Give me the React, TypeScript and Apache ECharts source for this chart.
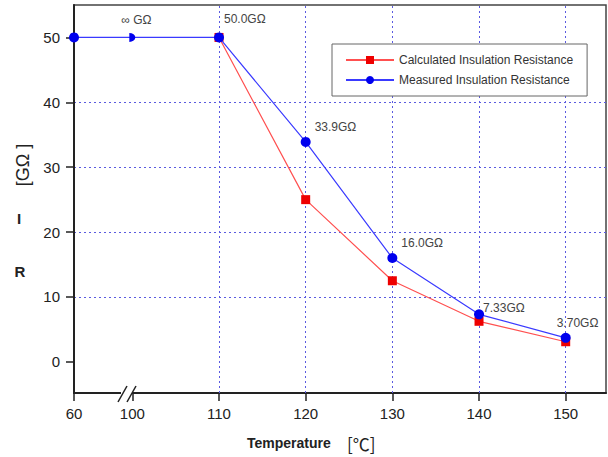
import React, { useEffect, useRef } from "react";
import * as echarts from "echarts";

// Temperatures (°C); the axis is broken between 60 and 100
const TEMPS = [60, 100, 110, 120, 130, 140, 150];
const MEASURED = [50, 50, 50, 33.9, 16.0, 7.33, 3.7];
const MEASURED_LABELS = ["", "∞ GΩ", "50.0GΩ", "33.9GΩ", "16.0GΩ", "7.33GΩ", "3.70GΩ"];
const CALC_TEMPS = [110, 120, 130, 140, 150];
const CALC = [50, 25, 12.5, 6.25, 3.1];
const X_TICKS = [60, 100, 110, 120, 130, 140, 150];
const X_GRID = [110, 120, 130, 140, 150];
const Y_TICKS = [0, 10, 20, 30, 40, 50];

// broken axis: values below 100 are drawn at the compressed left end
const BREAK_POS = 93.27;
const pos = (t: number) => (t < 100 ? BREAK_POS : t);
const X_MAX = 154.65;
const Y_MIN = -4.8;
const Y_MAX = 55;

// label offsets (px) from each measured point: [dx, dy]
const LABEL_OFFSETS: [number, number][] = [
  [0, 0], [-11, -17], [5, -18], [9, -15], [9, -15], [4, -6], [-9, -15],
];

const FONT = "'Liberation Sans', Arial, sans-serif";

export default function App() {
  const ref = useRef<HTMLDivElement>(null);
  useEffect(() => {
    if (!ref.current) return;
    const chart = echarts.init(ref.current, null, { renderer: "svg" });
    const tickPos = X_TICKS.map(pos);
    const gridColor = "#5a5ae0";
    const option: any = {
      animation: false,
      backgroundColor: "#fff",
      textStyle: { fontFamily: FONT },
      grid: { left: 74, right: 2, top: 5, bottom: 64, show: true, borderColor: "#444", borderWidth: 1.5 },
      legend: {
        orient: "vertical",
        left: 332,
        top: 44,
        padding: [10, 14, 10, 13],
        itemWidth: 48,
        itemHeight: 10,
        itemGap: 8,
        borderColor: "#666",
        borderWidth: 1,
        backgroundColor: "#fff",
        textStyle: { fontSize: 12, color: "#333", fontFamily: FONT },
        data: ["Calculated Insulation Resistance", "Measured Insulation Resistance"],
      },
      xAxis: {
        type: "value",
        min: BREAK_POS,
        max: X_MAX,
        axisLine: { show: true, onZero: false, lineStyle: { color: "#222", width: 2 } },
        axisTick: { show: true, length: 8, customValues: tickPos, lineStyle: { color: "#222", width: 1.5 } },
        axisLabel: {
          customValues: tickPos,
          margin: 13,
          fontSize: 15,
          color: "#222",
          formatter: (v: number) => {
            const i = tickPos.findIndex((p) => Math.abs(p - v) < 0.01);
            return i >= 0 ? String(X_TICKS[i]) : "";
          },
        },
        splitLine: { show: false },
      },
      yAxis: {
        type: "value",
        min: Y_MIN,
        max: Y_MAX,
        axisLine: { show: true, lineStyle: { color: "#222", width: 2 } },
        axisTick: { show: true, length: 8, customValues: Y_TICKS, lineStyle: { color: "#222", width: 1.5 } },
        axisLabel: { customValues: Y_TICKS, margin: 14, fontSize: 15, color: "#222" },
        splitLine: {
          show: true,
          showMinLine: false,
          showMaxLine: false,
          lineStyle: { type: [2, 3], color: gridColor, width: 1 },
        },
      },
      series: [
        {
          name: "Calculated Insulation Resistance",
          type: "line",
          data: CALC_TEMPS.map((t, i) => [pos(t), CALC[i]]),
          symbol: "rect",
          symbolSize: 9,
          itemStyle: { color: "#ee0000" },
          lineStyle: { color: "#ff5050", width: 1.2 },
          z: 2,
          markLine: {
            silent: true,
            symbol: ["none", "none"],
            label: { show: false },
            lineStyle: { type: [2, 3], color: gridColor, width: 1 },
            data: X_GRID.map((t) => ({ xAxis: pos(t) })),
            z: 1,
          },
        },
        {
          name: "Measured Insulation Resistance",
          type: "line",
          z: 3,
          symbol: "circle",
          symbolSize: 10,
          data: TEMPS.map((t, i) => {
            const isBreak = i === 1;
            const size = isBreak ? [6, 9] : [10, 10];
            const [dx, dy] = LABEL_OFFSETS[i];
            return {
              value: [pos(t), MEASURED[i]],
              symbol: isBreak ? "path://M0,0 A5,5 0 0 1 0,10 Z" : "circle",
              symbolSize: size,
              label: {
                show: MEASURED_LABELS[i] !== "",
                formatter: MEASURED_LABELS[i],
                position: [size[0] / 2 + dx, size[1] / 2 + dy],
                align: "left",
                verticalAlign: "middle",
                fontSize: 12,
                color: "#444",
                fontFamily: FONT,
              },
            };
          }),
          itemStyle: { color: "#0000ee" },
          lineStyle: { color: "#3a3aff", width: 1.2 },
        },
      ],
      graphic: [
        {
          type: "text",
          x: 23,
          y: 165,
          rotation: Math.PI / 2,
          style: { text: "[GΩ ]", font: `18px ${FONT}`, fill: "#222", textAlign: "center", textVerticalAlign: "middle" },
        },
        {
          type: "text",
          x: 19,
          y: 218,
          style: { text: "I", font: `bold 15px ${FONT}`, fill: "#222", textAlign: "center", textVerticalAlign: "middle" },
        },
        {
          type: "text",
          x: 20,
          y: 271,
          style: { text: "R", font: `bold 15px ${FONT}`, fill: "#222", textAlign: "center", textVerticalAlign: "middle" },
        },
        {
          type: "text",
          x: 247,
          y: 443,
          style: { text: "Temperature", font: `bold 14px ${FONT}`, fill: "#222", textAlign: "left", textVerticalAlign: "middle" },
        },
        {
          type: "text",
          x: 347,
          y: 443,
          style: { text: "[℃]", font: `17px 'Noto Sans CJK SC', sans-serif`, fill: "#222", textAlign: "left", textVerticalAlign: "middle" },
        },
        {
          type: "rect",
          shape: { x: 121, y: 390, width: 11, height: 7 },
          style: { fill: "#fff" },
          z: 100,
        },
        {
          type: "line",
          shape: { x1: 118, y1: 402, x2: 127, y2: 386 },
          style: { stroke: "#222", lineWidth: 1.5 },
          z: 101,
        },
        {
          type: "line",
          shape: { x1: 127, y1: 402, x2: 136, y2: 386 },
          style: { stroke: "#222", lineWidth: 1.5 },
          z: 101,
        },
      ],
    };
    chart.setOption(option);
    return () => chart.dispose();
  }, []);
  return <div ref={ref} style={{ width: 608, height: 457, position: "absolute", left: 0, top: 0 }} />;
}
